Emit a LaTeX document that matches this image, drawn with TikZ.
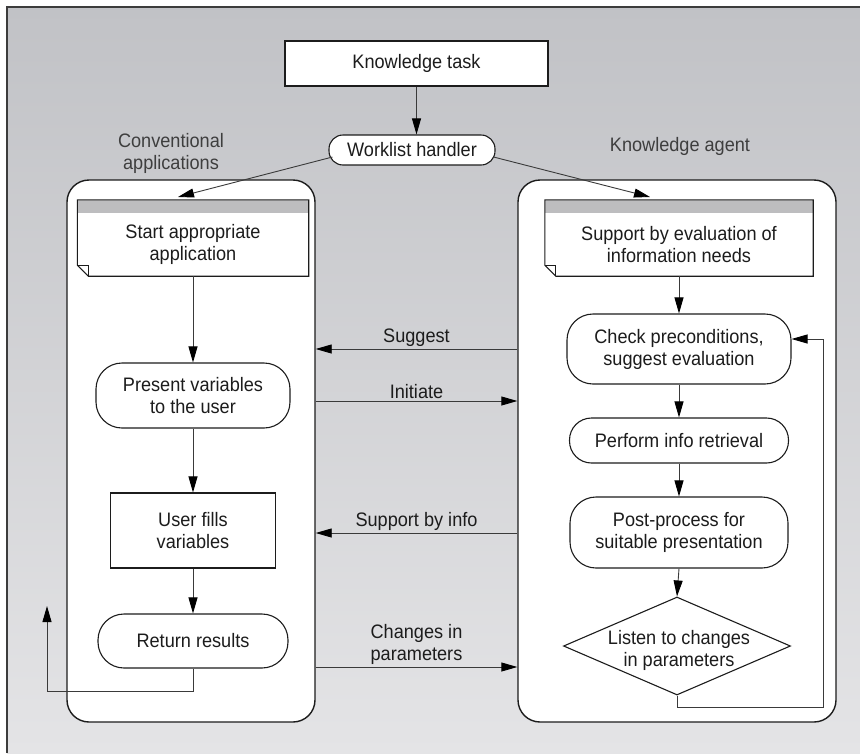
\documentclass[tikz,border=0pt]{standalone}
\usepackage{fontspec}
\setmainfont[FakeStretch=0.93]{Liberation Sans}
\usetikzlibrary{arrows.meta,shapes.geometric,calc}
\definecolor{bgtop}{HTML}{C1C2C6}
\definecolor{bgbot}{HTML}{E4E4E6}
\definecolor{hdr}{HTML}{BDBDBF}
\definecolor{ink}{HTML}{1C1C1C}
\definecolor{wire}{HTML}{3A3A3A}
\definecolor{frame}{HTML}{3C3C3C}

\begin{document}
\begin{tikzpicture}[x=1pt,y=-1pt,
  font=\fontsize{19.5}{22}\selectfont, text=ink,
  box/.style={draw=ink,line width=1.1pt,fill=white,align=center,inner sep=0pt},
  pill/.style={box,rounded corners=#1},
  lane/.style={draw=ink,line width=1.4pt,fill=white,rounded corners=22pt,inner sep=0pt},
  docbody/.style={fill=white,align=center,inner sep=0pt},
  docline/.style={draw=ink,line width=1.1pt},
  caption/.style={align=center,text=ink!85},
  arr/.style={draw=wire,line width=0.9pt,-{Triangle[length=16pt,width=9pt,color=black]}},
  flowlabel/.style={above,align=center,inner sep=2pt},
]
% page and shaded panel
\useasboundingbox (0,0) rectangle (860,753);
\fill[white] (0,0) rectangle (860,753);
\shade[top color=bgtop,bottom color=bgbot] (7,7) rectangle (860,753);
\draw[frame,line width=1.3pt] (7,753) -- (7,7) -- (860,7);

% top of the process
\node[box,minimum width=263pt,minimum height=45pt] (task) at (416.5,63.5) {Knowledge task};
\node[pill=14pt,minimum width=166pt,minimum height=30pt] (wl) at (412,150) {Worklist handler};
\node[caption] (capL) at (171,153) {Conventional\\applications};
\node[caption] (capR) at (680,146) {Knowledge agent};

% the two swimlanes
\node[lane,minimum width=248pt,minimum height=542pt] (L) at (191,451) {};
\node[lane,minimum width=318pt,minimum height=542pt] (R) at (677,451) {};

% document-style entry boxes with header bar and folded corner
\node[docbody,minimum width=231pt,minimum height=63pt] (ldoc) at (193,244.5) {Start appropriate\\application};
\node[docbody,minimum width=268pt,minimum height=63pt] (rdoc) at (679,244.5) {Support by evaluation of\\information needs};
\foreach \d in {ldoc,rdoc}{
  \fill[hdr] ($(\d.north west)+(0,-13)$) rectangle (\d.north east);
  \draw[docline] ($(\d.north west)+(0,-13)$) -- ($(\d.north east)+(0,-13)$) -- (\d.south east)
     -- ($(\d.south west)+(11,0)$) -- ($(\d.south west)+(0,-11)$) -- cycle;
  \draw[docline] ($(\d.south west)+(0,-11)$) -| ($(\d.south west)+(11,0)$);
}

% conventional application steps
\node[pill=26pt,minimum width=194pt,minimum height=65pt] (pres) at (193,395.5) {Present variables\\to the user};
\node[box,minimum width=165pt,minimum height=75pt] (ufill) at (193,530.5) {User fills\\variables};
\node[pill=26pt,minimum width=190pt,minimum height=54pt] (ret) at (193,641) {Return results};

% knowledge agent steps
\node[pill=26pt,minimum width=224pt,minimum height=70pt] (chk) at (679,349) {Check preconditions,\\suggest evaluation};
\node[pill=22pt,minimum width=219pt,minimum height=45pt] (perf) at (679,440.5) {Perform info retrieval};
\node[pill=26pt,minimum width=218pt,minimum height=71pt] (post) at (679,532.5) {Post-process for\\suitable presentation};
\node[diamond,draw=ink,line width=1.1pt,fill=white,inner sep=0pt,minimum width=227pt,minimum height=98pt] (dia) at (677,646) {};
\node[align=center,inner sep=0pt] (diatext) at (679,650) {Listen to changes\\in parameters};

% arrows at the top
\coordinate (lin) at (178,197);
\coordinate (rin) at (650,197);
\draw[arr] (task.south) -- (task.south |- wl.north);
\draw[arr] ($(wl.west)+(4,7)$) -- (lin);
\draw[arr] ($(wl.east)+(-2,7)$) -- (rin);

% flow inside the left lane
\draw[arr] (ldoc.south) -- (pres.north);
\draw[arr] (pres.south) -- (ufill.north);
\draw[arr] (ufill.south) -- (ret.north);
\coordinate (lb1) at (47,691);
\coordinate (lb2) at (47,606);
\draw[arr] (ret.south) |- (lb1) -- (lb2);

% flow inside the right lane
\draw[arr] (rdoc.south) -- (chk.north);
\draw[arr] (chk.south) -- (perf.north);
\draw[arr] (perf.south) -- (post.north);
\draw[arr] (post.south) -- (dia.north);
\coordinate (fb1) at (823,707);
\coordinate (fb2) at (823,339);
\draw[arr] (dia.south) |- (fb1) -- (fb2) -- (fb2 -| chk.east);

% messages between the lanes
\coordinate (ySug) at (0,349);
\coordinate (yIni) at (0,401);
\coordinate (ySup) at (0,533);
\coordinate (yChg) at (0,667);
\draw[arr] (ySug -| R.west) -- node[flowlabel] (lSug) {Suggest} (ySug -| L.east);
\draw[arr] (yIni -| L.east) -- node[flowlabel] (lIni) {Initiate} (yIni -| R.west);
\draw[arr] (ySup -| R.west) -- node[flowlabel] (lSup) {Support by info} (ySup -| L.east);
\draw[arr] (yChg -| L.east) -- node[flowlabel] (lChg) {Changes in\\parameters} (yChg -| R.west);
\end{tikzpicture}
\end{document}
